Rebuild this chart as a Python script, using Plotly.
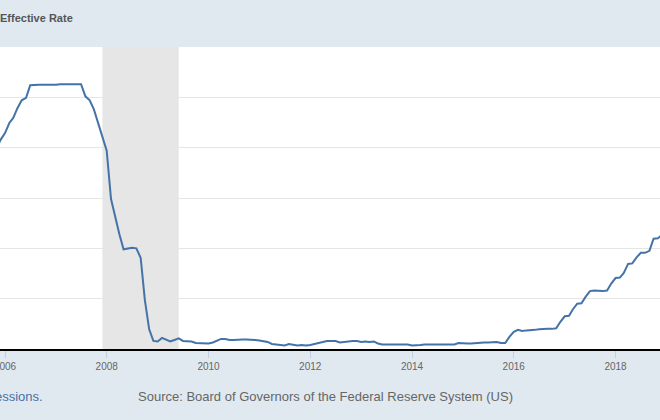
import pandas as pd
import plotly.graph_objects as go

# effective federal funds rate, monthly, percent
rate_2005 = [2.28, 2.50, 2.63, 2.79, 3.00, 3.04, 3.26, 3.50, 3.62, 3.78, 4.00, 4.16]
rate_2006 = [4.29, 4.49, 4.59, 4.79, 4.94, 4.99, 5.24, 5.25, 5.25, 5.25, 5.25, 5.24]
rate_2007 = [5.25, 5.26, 5.26, 5.25, 5.25, 5.25, 5.26, 5.02, 4.94, 4.76, 4.49, 4.24]
rate_2008 = [3.94, 2.98, 2.61, 2.28, 1.98, 2.00, 2.01, 2.00, 1.81, 0.97, 0.39, 0.16]
rate_2009 = [0.15, 0.22, 0.18, 0.15, 0.18, 0.21, 0.16, 0.16, 0.15, 0.12, 0.12, 0.12]
rate_2010 = [0.11, 0.13, 0.16, 0.20, 0.20, 0.18, 0.18, 0.19, 0.19, 0.19, 0.19, 0.18]
rate_2011 = [0.17, 0.16, 0.14, 0.10, 0.09, 0.09, 0.07, 0.10, 0.08, 0.07, 0.08, 0.07]
rate_2012 = [0.08, 0.10, 0.13, 0.14, 0.16, 0.16, 0.16, 0.13, 0.14, 0.16, 0.16, 0.16]
rate_2013 = [0.14, 0.15, 0.14, 0.15, 0.11, 0.09, 0.09, 0.08, 0.08, 0.09, 0.08, 0.09]
rate_2014 = [0.07, 0.07, 0.08, 0.09, 0.09, 0.10, 0.09, 0.09, 0.09, 0.09, 0.09, 0.12]
rate_2015 = [0.11, 0.11, 0.11, 0.12, 0.12, 0.13, 0.13, 0.14, 0.14, 0.12, 0.12, 0.24]
rate_2016 = [0.34, 0.38, 0.36, 0.37, 0.37, 0.38, 0.39, 0.40, 0.40, 0.40, 0.41, 0.54]
rate_2017 = [0.65, 0.66, 0.79, 0.90, 0.91, 1.04, 1.15, 1.16, 1.15, 1.15, 1.16, 1.30]
rate_2018 = [1.41, 1.42, 1.51, 1.69, 1.70, 1.82, 1.91, 1.91, 1.95, 2.19, 2.20, 2.27]

rates = (rate_2005 + rate_2006 + rate_2007 + rate_2008 + rate_2009 + rate_2010
         + rate_2011 + rate_2012 + rate_2013 + rate_2014 + rate_2015 + rate_2016
         + rate_2017 + rate_2018)
months = pd.date_range("2005-01-01", periods=len(rates), freq="MS")

recession_start = "2007-12-01"
recession_end = "2009-06-01"

tick_years = ["2006", "2008", "2010", "2012", "2014", "2016", "2018"]

band = "#E1E9F0"
font = "Liberation Sans, Arial"

fig = go.Figure()

fig.add_vrect(x0=recession_start, x1=recession_end, fillcolor="#E6E6E6",
              line_width=0, layer="below")

fig.add_trace(go.Scatter(x=months, y=rates, mode="lines",
                         line=dict(color="#4572A7", width=2),
                         hoverinfo="skip", showlegend=False))

fig.update_xaxes(
    range=["2005-11-26", "2018-11-16"],
    tickvals=[y + "-01-01" for y in tick_years],
    ticktext=tick_years,
    ticklabeloverflow="allow", automargin=False,
    showgrid=False, zeroline=False,
    showline=True, linecolor="#000000", linewidth=2,
    ticks="outside", ticklen=7, tickcolor="#C0D0E0", tickwidth=1,
    tickfont=dict(family=font, size=10, color="#666666"),
)
fig.update_yaxes(
    range=[0, 6], dtick=1, automargin=False,
    showticklabels=False, zeroline=False,
    showgrid=True, gridcolor="#E6E6E6", gridwidth=1,
)

fig.add_annotation(text="<b>Effective Rate</b>", xref="paper", yref="paper",
                   x=-2 / 660, y=331 / 302, xanchor="left", yanchor="middle",
                   showarrow=False,
                   font=dict(family=font, size=11, color="#555555"))
fig.add_annotation(text="Shaded areas indicate U.S. recessions.", xref="paper", yref="paper",
                   x=45 / 660, y=-47 / 302, xanchor="right", yanchor="middle",
                   showarrow=False,
                   font=dict(family=font, size=13, color="#4572A7"))
fig.add_annotation(text="Source: Board of Governors of the Federal Reserve System (US)",
                   xref="paper", yref="paper",
                   x=136 / 660, y=-47 / 302, xanchor="left", yanchor="middle",
                   showarrow=False,
                   font=dict(family=font, size=13, color="#666666"))

fig.update_layout(
    width=660, height=420,
    margin=dict(l=0, r=0, t=47, b=71),
    paper_bgcolor=band, plot_bgcolor="#FFFFFF",
)

fig.write_html("out.html", config={"displayModeBar": False},
               post_script="document.body.style.margin='0';")
